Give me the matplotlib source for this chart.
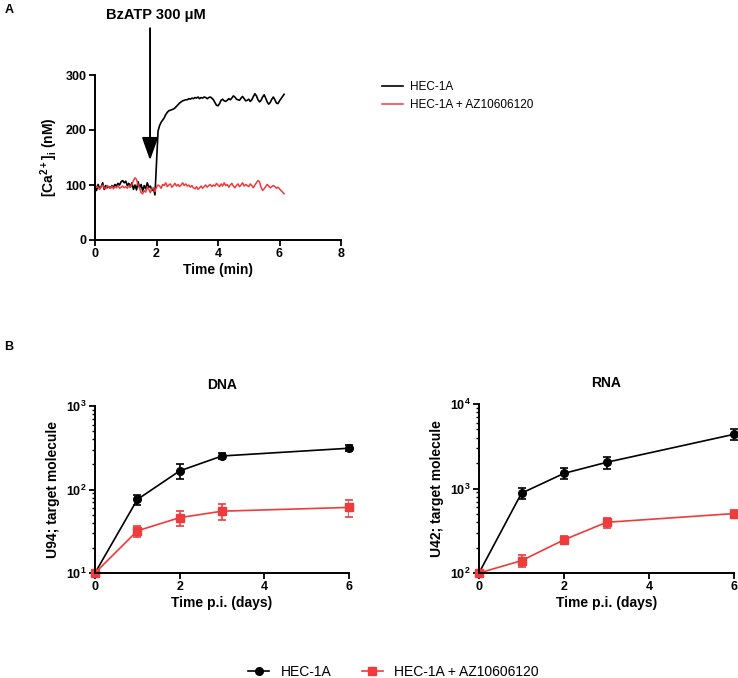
import matplotlib
matplotlib.use("Agg")
import matplotlib.pyplot as plt
import numpy as np
from matplotlib.lines import Line2D
from matplotlib.ticker import FixedLocator, LogLocator, NullFormatter

plt.rcParams["font.family"] = ["Liberation Sans", "DejaVu Sans"]
plt.rcParams["font.weight"] = "bold"
plt.rcParams["axes.labelweight"] = "bold"
plt.rcParams["axes.titleweight"] = "bold"
plt.rcParams["mathtext.fontset"] = "custom"
plt.rcParams["mathtext.rm"] = "Liberation Sans:bold"
plt.rcParams["mathtext.it"] = "Liberation Sans:bold"
plt.rcParams["mathtext.bf"] = "Liberation Sans:bold"
plt.rcParams["mathtext.sf"] = "Liberation Sans:bold"
plt.rcParams["mathtext.default"] = "rm"

BLACK = "#000000"
RED = "#ee3b3b"

# ---- panel A: calcium traces (sampled every 0.05 min) ----
trace_time = np.round(np.arange(0, 6.16, 0.05), 2)
ca_hec = [
    96, 90, 101, 93, 97, 104, 92, 99, 95, 97, 94, 99, 96, 101, 98, 103, 100, 106, 108, 104,
    107, 99, 103, 96, 104, 92, 100, 91, 106, 95, 101, 89, 99, 93, 104, 96, 98, 90, 94, 82,
    140, 198, 208, 214, 218, 222, 228, 232, 235, 236, 237, 238, 240, 243, 246, 249, 251, 253, 254, 255,
    255, 257, 256, 258, 257, 259, 258, 260, 257, 259, 258, 260, 259, 257, 259, 260, 258, 255, 250, 245,
    244, 248, 254, 256, 253, 252, 254, 257, 255, 258, 262, 260, 256, 255, 254, 258, 261, 257, 253, 254,
    256, 252, 255, 261, 266, 262, 255, 251, 254, 260, 264, 258, 251, 247, 250, 256, 260, 255, 249, 248,
    253, 257, 261, 265,
]
ca_hec_az = [
    94, 98, 96, 92, 97, 100, 95, 93, 99, 96, 94, 98, 93, 97, 95, 99, 94, 96, 98, 95,
    97, 94, 99, 96, 101, 108, 113, 110, 100, 95, 86, 84, 90, 87, 96, 92, 86, 93, 95, 88,
    96, 100, 98, 94, 101, 99, 104, 97, 100, 102, 96, 99, 103, 98, 101, 97, 100, 104, 99, 102,
    98, 100, 96, 99, 95, 93, 97, 92, 95, 98, 94, 97, 100, 96, 99, 101, 97, 100, 98, 103,
    100, 97, 102, 98, 104, 99, 101, 96, 100, 103, 98, 95, 99, 102, 97, 100, 104, 98, 101, 99,
    97, 102, 99, 95, 100, 104, 108, 106, 96, 90, 93, 97, 101, 98, 95, 97, 99, 97, 94, 96,
    93, 90, 87, 84,
]
stim_time = 1.79
stim_label = "BzATP 300 μM"

# ---- panel B: qPCR ----
days = [0, 1, 2, 3, 6]
dna_hec = [10, 76, 167, 252, 312]
dna_hec_err = [0, 11, 35, 20, 25]
dna_az = [10, 32, 46, 55, 61]
dna_az_err = [0, 5, 9, 12, 14]
rna_hec = [100, 880, 1510, 2040, 4380]
rna_hec_err = [0, 130, 220, 340, 620]
rna_az = [100, 140, 247, 398, 505]
rna_az_err = [0, 22, 28, 55, 55]

labels = ["HEC-1A", "HEC-1A + AZ10606120"]

fig = plt.figure(figsize=(7.38, 6.78), dpi=100)
W, H = 738, 678


def axes_px(left, right, top, bottom):
    return fig.add_axes([left / W, 1 - bottom / H, (right - left) / W, (bottom - top) / H])


def style(ax):
    for side in ("top", "right"):
        ax.spines[side].set_visible(False)
    for side in ("left", "bottom"):
        ax.spines[side].set_linewidth(1.4)
    ax.tick_params(which="major", direction="out", length=4, width=1.3, labelsize=9, pad=2)
    ax.tick_params(which="minor", direction="out", length=2.5, width=1.0)


# panel A
axA = axes_px(95, 341, 75, 240)
style(axA)
axA.plot(trace_time, ca_hec, color=BLACK, lw=1.2, label=labels[0])
axA.plot(trace_time, ca_hec_az, color=RED, lw=1.1, label=labels[1])
axA.set_xlim(0, 8)
axA.set_ylim(0, 300)
axA.set_xticks([0, 2, 4, 6, 8])
axA.set_yticks([0, 100, 200, 300])
axA.set_xlabel("Time (min)", fontsize=10, labelpad=2)
axA.set_ylabel("[Ca$^{2+}$]$_i$ (nM)", fontsize=10, labelpad=4)
axA.annotate("", xy=(stim_time, 145), xytext=(stim_time, 385),
             arrowprops=dict(arrowstyle="-|>,head_length=1.4,head_width=0.5",
                             lw=1.4, color=BLACK, shrinkA=0, shrinkB=0),
             annotation_clip=False)
axA.text(1.97, 409, stim_label, ha="center", va="center", fontsize=10.5, clip_on=False)
axA.legend(loc="upper left", bbox_to_anchor=(382 / W, 1 - 81 / H), bbox_transform=fig.transFigure,
           frameon=False, handlelength=1.8, handletextpad=0.6, borderpad=0, borderaxespad=0,
           labelspacing=0.55, prop=dict(size=8.5, weight="normal"))

fig.text(5 / W, 1 - 10 / H, "A", fontsize=9, ha="left", va="center")
fig.text(4 / W, 1 - 347 / H, "B", fontsize=9, ha="left", va="center")


def log_panel(ax, hec, hec_err, az, az_err, ylim, ylabel, title):
    style(ax)
    ax.set_yscale("log")
    ax.errorbar(days, hec, yerr=hec_err, color=BLACK, marker="o", ms=5.5, lw=1.2,
                capsize=3, elinewidth=1.2, capthick=1.2)
    ax.errorbar(days, az, yerr=az_err, color=RED, marker="s", ms=5.5, lw=1.2,
                capsize=3, elinewidth=1.2, capthick=1.2)
    ax.set_xlim(0, 6)
    ax.set_ylim(*ylim)
    ax.set_xticks([0, 2, 4, 6])
    lo, hi = int(np.log10(ylim[0])), int(np.log10(ylim[1]))
    majors = [10 ** k for k in range(lo, hi + 1)]
    ax.yaxis.set_major_locator(FixedLocator(majors))
    ax.set_yticklabels([f"10$^{{{k}}}$" for k in range(lo, hi + 1)])
    ax.yaxis.set_minor_locator(LogLocator(base=10, subs=np.arange(2, 10)))
    ax.yaxis.set_minor_formatter(NullFormatter())
    ax.set_xlabel("Time p.i. (days)", fontsize=10, labelpad=2)
    ax.set_ylabel(ylabel, fontsize=10, labelpad=4)
    ax.set_title(title, fontsize=10, pad=12)
    for line in ax.lines:
        line.set_clip_on(False)


axD = axes_px(95, 349, 406, 573)
log_panel(axD, dna_hec, dna_hec_err, dna_az, dna_az_err, (10, 1000), "U94; target molecule", "DNA")
axR = axes_px(479, 734, 404, 573)
log_panel(axR, rna_hec, rna_hec_err, rna_az, rna_az_err, (100, 10000), "U42; target molecule", "RNA")

handles = [
    Line2D([], [], color=BLACK, marker="o", ms=5.5, lw=1.2),
    Line2D([], [], color=RED, marker="s", ms=5.5, lw=1.2),
]
fig.legend(handles, labels, loc="center", bbox_to_anchor=(0.533, 6 / H), ncol=2, frameon=False,
           handlelength=1.5, handletextpad=0.8, columnspacing=2.2, borderpad=0,
           prop=dict(size=10, weight="normal"))

fig.savefig("out.png", dpi=100)
